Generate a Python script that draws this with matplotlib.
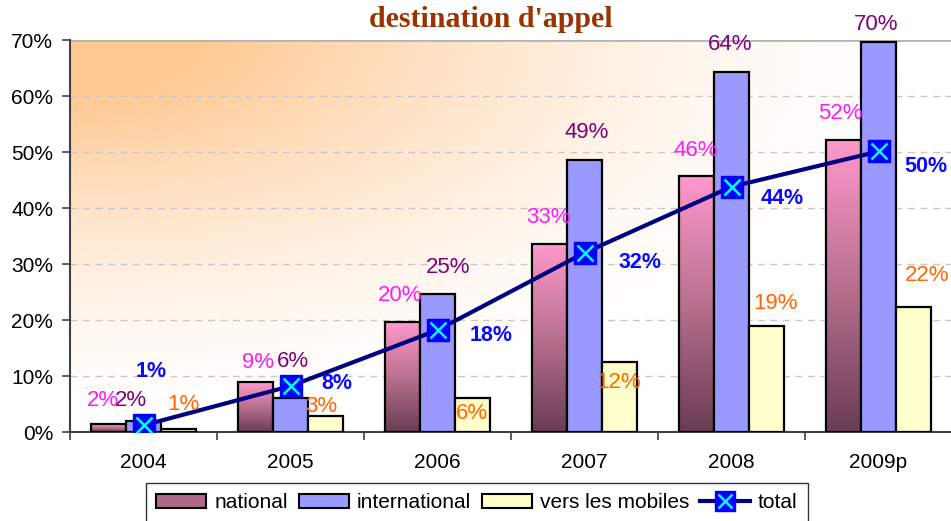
import numpy as np
import matplotlib
matplotlib.use("Agg")
import matplotlib.pyplot as plt
from matplotlib.colors import LinearSegmentedColormap
from matplotlib.lines import Line2D
from matplotlib.patches import Patch

years = ["2004", "2005", "2006", "2007", "2008", "2009p"]
national = [1.4, 8.9, 19.6, 33.5, 45.7, 52.2]
international = [1.9, 6.1, 24.6, 48.6, 64.3, 69.6]
mobiles = [0.5, 2.8, 6.0, 12.5, 18.9, 22.4]
total = [1.2, 8.2, 18.2, 32.0, 43.8, 50.1]

national_lbl = ["2%", "9%", "20%", "33%", "46%", "52%"]
international_lbl = ["2%", "6%", "25%", "49%", "64%", "70%"]
mobiles_lbl = ["1%", "3%", "6%", "12%", "19%", "22%"]
total_lbl = ["1%", "8%", "18%", "32%", "44%", "50%"]

# label offsets in pixels (dx, dy up)
nat_off = [(-6, 24), (2, 20), (-2, 27), (-1, 27), (-1, 26), (-3, 26)]
int_off = [(-13, 21), (2, 36), (11, 27), (2, 27), (-1, 27), (-2, 18)]
mob_off = [(5, 25), (-4, 10), (-1, -15), (-1, -20), (9, 23), (14, 31)]
tot_off = [(8, 54), (46, 3), (54, -5), (56, -10), (51, -12), (47, -15)]

plt.rcParams['font.family'] = ['Liberation Sans', 'DejaVu Sans']

fig = plt.figure(figsize=(9.51, 5.21), dpi=100)
ax = fig.add_axes([70/951, 1-432/521, 882/951, 392/521])

# background gradient (orange top-left -> white)
nx, ny = 300, 200
gx, gy = np.meshgrid(np.linspace(0, 1, nx), np.linspace(0, 1, ny))
r = np.sqrt(gx**2 + gy**2)
w = np.clip(1 - (r - 0.15)/0.8, 0, 1)**1.5
orange = np.array([1.0, 0.79, 0.58])
img = np.ones((ny, nx, 3))*(1-w[..., None]) + orange*w[..., None]
ax.imshow(img, extent=[0, 6, 0, 70], origin='upper', aspect='auto', zorder=0,
          interpolation='bilinear')

for v in range(10, 70, 10):
    ax.axhline(v, color='#c8c8c8', lw=1, ls=(0, (5, 4)), zorder=1)
ax.axhline(70, color='#b4b4b4', lw=2, zorder=1)

bw = 0.238
x = np.arange(6) + 0.5
cmap_nat = LinearSegmentedColormap.from_list("nat", ["#6b3c54", "#b8708f", "#ff99cc"])
grad = np.linspace(0, 1, 256)[:, None]

bars_n = ax.bar(x - bw, national, bw, facecolor='none', edgecolor='black', lw=1.6, zorder=4)
for b in bars_n:
    x0, y0, bw_, bh = b.get_x(), b.get_y(), b.get_width(), b.get_height()
    im = ax.imshow(grad, cmap=cmap_nat, origin='lower', extent=[x0, x0+bw_, y0, y0+bh],
                   aspect='auto', zorder=3)
    im.set_clip_path(b)
ax.bar(x, international, bw, color='#9999ff', edgecolor='black', lw=1.6, zorder=4)
ax.bar(x + bw, mobiles, bw, color='#ffffcc', edgecolor='black', lw=1.6, zorder=4)
ax.set_xlim(0, 6)
ax.set_ylim(0, 70)

ax.plot(x, total, color='#000080', lw=3, zorder=6)
ax.plot(x, total, 's', ms=16.5, mfc='#0000ff', mec='#0000ff', zorder=7)
ax.plot(x, total, 'x', ms=11.5, mew=1.8, color='#00ffff', zorder=8)

fs = 16
for i in range(6):
    ax.annotate(national_lbl[i], (x[i] - bw, national[i]), xytext=nat_off[i], textcoords='offset pixels',
                ha='center', va='center', color='#ff1aff', fontsize=fs, zorder=9)
    ax.annotate(international_lbl[i], (x[i], international[i]), xytext=int_off[i], textcoords='offset pixels',
                ha='center', va='center', color='#800080', fontsize=fs, zorder=9)
    ax.annotate(mobiles_lbl[i], (x[i] + bw, mobiles[i]), xytext=mob_off[i], textcoords='offset pixels',
                ha='center', va='center', color='#ff6600', fontsize=fs, zorder=9)
    ax.annotate(total_lbl[i], (x[i], total[i]), xytext=tot_off[i], textcoords='offset pixels',
                ha='center', va='center', color='#0a0aff', fontsize=15.5, fontweight='bold', zorder=9)

ax.set_yticks(range(0, 71, 10))
ax.set_yticklabels([f"{v}%" for v in range(0, 71, 10)], fontsize=15)
ax.set_xticks(x)
ax.set_xticklabels(years, fontsize=15)
ax.set_xticks(np.arange(7), minor=True)
ax.tick_params(axis='x', which='major', length=0, pad=15)
ax.tick_params(axis='x', which='minor', length=6, color='#404040', width=1.2)
ax.tick_params(axis='y', length=6, color='#404040', width=1.2, pad=6)
for s in ['top', 'right']:
    ax.spines[s].set_visible(False)
ax.spines['left'].set_color('#404040')
ax.spines['bottom'].set_color('#404040')
ax.spines['left'].set_linewidth(1.5)
ax.spines['bottom'].set_linewidth(1.5)

fig.text(491/951, 1-27/521, "destination d'appel", ha='center', va='baseline',
         family='Liberation Serif', fontweight='bold', fontsize=21.5, color='#993300')

handles = [Patch(facecolor='#b06888', edgecolor='black', lw=1.5),
           Patch(facecolor='#9999ff', edgecolor='black', lw=1.5),
           Patch(facecolor='#ffffcc', edgecolor='black', lw=1.5),
           (Line2D([], [], color='#000080', lw=3),
            Line2D([], [], marker='s', ms=15, mfc='#0000ff', mec='#0000ff', ls='none'),
            Line2D([], [], marker='x', ms=10, mew=1.8, color='#00ffff', ls='none'))]
leg = fig.legend(handles, ["national", "international", "vers les mobiles", "total"],
                 loc='upper center', bbox_to_anchor=(477/951, 1-483/521), ncol=4, fontsize=15,
                 frameon=True, fancybox=False, edgecolor='black', handlelength=2.4,
                 handleheight=0.65, handletextpad=0.4, columnspacing=0.5, borderpad=0.5,
                 borderaxespad=0)
leg.get_frame().set_linewidth(1.0)

fig.savefig("out.png", dpi=100)
